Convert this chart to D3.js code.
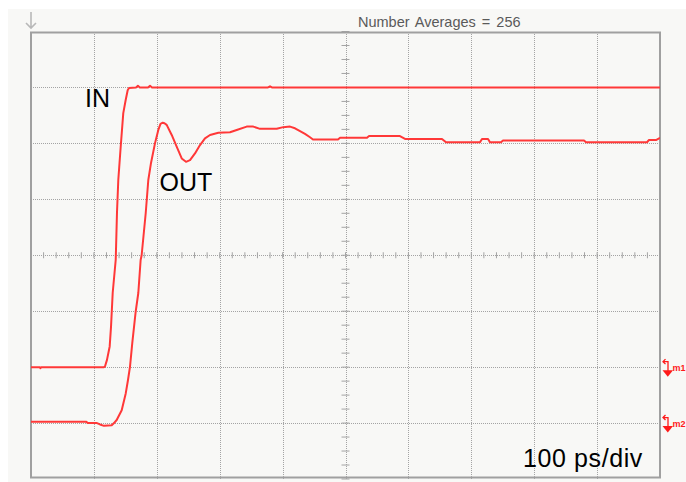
<!DOCTYPE html>
<html>
<head>
<meta charset="utf-8">
<script src="https://cdn.jsdelivr.net/npm/d3@7"></script>
<style>
  html, body { margin: 0; padding: 0; background: #ffffff; }
  svg { display: block; }
  text { font-family: "Liberation Sans", Arial, sans-serif; }
</style>
</head>
<body>
<svg id="chart" width="686" height="482"></svg>
<script>
// ---- DATA (time in ps, amplitude in vertical divisions) ----
const timeDomain = [0, 1000];          // 100 ps/div, 10 divisions
const ampDomain = [-4, 4];             // 8 vertical divisions
const gridTimes = [100, 200, 300, 400, 500, 600, 700, 800, 900];
const gridAmps = [-3, -2, -1, 0, 1, 2, 3];

const inTime = [0, 14, 15, 16, 116, 117.6, 120.8, 125.1, 127.2, 129.9, 134.7, 136.7, 138.8, 142.6, 146.7, 150.6, 153.7, 155.8,
  166.9, 170, 173, 186, 189.2, 192.4, 376.8, 380, 383, 1000];
const inValue = [-2.0, -2.0, -2.02, -2.0, -2.0, -1.99, -1.87, -1.63, -1.28, -0.67, -0.08, 0.76, 1.35, 1.94, 2.54, 2.78, 2.95, 2.99,
  3.0, 3.03, 3.0, 3.0, 3.03, 3.0, 3.0, 3.02, 3.0, 3.0];

const outTime = [0, 87.4, 90.6, 104.9, 109.7, 116, 128.3, 132, 136.2, 144.2, 150.6, 154.2, 157.4, 161, 166.4, 170.6, 174.3, 175.9,
  182.4, 186.5, 190.8, 197.1, 202.4, 205.9, 209.4, 212.2, 215.7, 223.7, 231.6, 239.6, 246.4, 252.8, 260.7, 268.7, 276.6,
  284.6, 297.8, 316.4, 327, 342.9, 353.4, 364.1, 390.6, 401.1, 411.8, 419.7, 427.7, 435.6, 443.6, 448.3, 488.1, 491.3,
  534.2, 537.4, 586.6, 594.6, 653.4, 659.8, 713.8, 717, 726.6, 729.7, 747.2, 750.4, 879.2, 882.4, 979.3, 982.5, 993.6, 1000];
const outValue = [-2.975, -2.975, -3.0, -3.0, -3.025, -3.05, -3.04, -3.0, -2.945, -2.77, -2.47, -2.23, -1.99, -1.57, -1.01, -0.675, -0.085, 0.0,
  0.755, 1.345, 1.65, 2.0, 2.24, 2.35, 2.37, 2.36, 2.33, 2.15, 1.94, 1.73, 1.67, 1.70, 1.82, 1.97, 2.09,
  2.15, 2.19, 2.20, 2.24, 2.30, 2.30, 2.26, 2.26, 2.29, 2.30, 2.27, 2.22, 2.17, 2.11, 2.07, 2.07, 2.10,
  2.10, 2.13, 2.13, 2.08, 2.08, 2.02, 2.02, 2.08, 2.08, 2.02, 2.02, 2.05, 2.05, 2.02, 2.02, 2.06, 2.06, 2.10];

const markerNames = ["m1", "m2"];
const markerLevels = [-2.0, -3.0];

const headerText = "Number Averages = 256";
const scaleText = "100 ps/div";
const traceLabels = ["IN", "OUT"];

// ---- DRAW ----
const svg = d3.select("#chart");
const x = d3.scaleLinear().domain(timeDomain).range([31, 660]);
const y = d3.scaleLinear().domain(ampDomain).range([479, 31.5]);

svg.append("rect").attr("x", 8).attr("y", 9).attr("width", 678).attr("height", 473).attr("fill", "#f8f8f6");

// grid (dotted) via axes
const plotH = y(ampDomain[0]) - y(ampDomain[1]);
const plotW = x(timeDomain[1]) - x(timeDomain[0]);
const gx = svg.append("g").attr("transform", `translate(0,${y(ampDomain[1])})`)
  .call(d3.axisTop(x).tickValues(gridTimes).tickSize(-plotH).tickFormat(""));
const gy = svg.append("g").attr("transform", `translate(${x(timeDomain[0])},0)`)
  .call(d3.axisLeft(y).tickValues(gridAmps).tickSize(-plotW).tickFormat(""));
[gx, gy].forEach(g => {
  g.select(".domain").remove();
  g.selectAll(".tick line").attr("stroke", "#a4a4a4").attr("stroke-dasharray", "1,1")
    .attr("shape-rendering", "crispEdges");
});

// minor ticks on the centre axes
const minorT = d3.range(timeDomain[0], timeDomain[1] + 0.001, 20);
svg.append("g").selectAll("line").data(minorT).join("line")
  .attr("x1", d => x(d)).attr("x2", d => x(d))
  .attr("y1", y(0) - 3).attr("y2", y(0) + 3)
  .attr("stroke", "#a4a4a4").attr("stroke-width", 1);
const minorA = d3.range(ampDomain[0], ampDomain[1] + 0.001, 0.25);
svg.append("g").selectAll("line").data(minorA).join("line")
  .attr("x1", x(500) - 4).attr("x2", x(500) + 4)
  .attr("y1", d => y(d)).attr("y2", d => y(d))
  .attr("stroke", "#a4a4a4").attr("stroke-width", 1);

// frame
svg.append("rect").attr("x", x(timeDomain[0])).attr("y", 32.5)
  .attr("width", plotW).attr("height", 445)
  .attr("fill", "none").attr("stroke", "#a0a0a0").attr("stroke-width", 2);

// top-left trigger arrow
svg.append("path").attr("d", "M31,12 L31,28 M26,23 L31,28 L36,23")
  .attr("fill", "none").attr("stroke", "#b8b8b8").attr("stroke-width", 1.6);

// traces
svg.append("clipPath").attr("id", "clip").append("rect")
  .attr("x", x(timeDomain[0])).attr("y", y(ampDomain[1])).attr("width", plotW).attr("height", plotH);
const line = d3.line().x(d => x(d[0])).y(d => y(d[1]));
const traces = [d3.zip(inTime, inValue), d3.zip(outTime, outValue)];
svg.append("g").attr("clip-path", "url(#clip)").selectAll("path").data(traces).join("path")
  .attr("d", line).attr("fill", "none").attr("stroke", "#ff3838").attr("stroke-width", 2)
  .attr("stroke-linejoin", "round");

// header
svg.append("text").attr("x", 358).attr("y", 27).attr("font-size", 14.5).attr("fill", "#5a5a5a")
  .attr("word-spacing", "2px").text(headerText);

// labels
svg.append("text").attr("x", 85).attr("y", 107).attr("font-size", 25).attr("fill", "#000").text(traceLabels[0]);
svg.append("text").attr("x", 159.5).attr("y", 190.5).attr("font-size", 25).attr("fill", "#000").text(traceLabels[1]);
svg.append("text").attr("x", 523).attr("y", 467).attr("font-size", 25).attr("letter-spacing", "0.6px")
  .attr("fill", "#000").text(scaleText);

// markers
const mk = svg.append("g").selectAll("g").data(markerNames).join("g")
  .attr("transform", (d, i) => `translate(0,${y(markerLevels[i])})`);
mk.append("path").attr("d", "M663,-5.5 L668,-5.5 L668,4 M665.5,-8 L663,-5.5 L665.5,-3")
  .attr("fill", "none").attr("stroke", "#ff1a1a").attr("stroke-width", 1.3);
mk.append("path").attr("d", "M662.5,3 L673,3 L667.8,9.5 Z").attr("fill", "#ff1a1a");
mk.append("text").attr("x", 672.5).attr("y", 4).attr("font-size", 9).attr("font-weight", "bold")
  .attr("fill", "#ff1a1a").text(d => d);
</script>
</body>
</html>
